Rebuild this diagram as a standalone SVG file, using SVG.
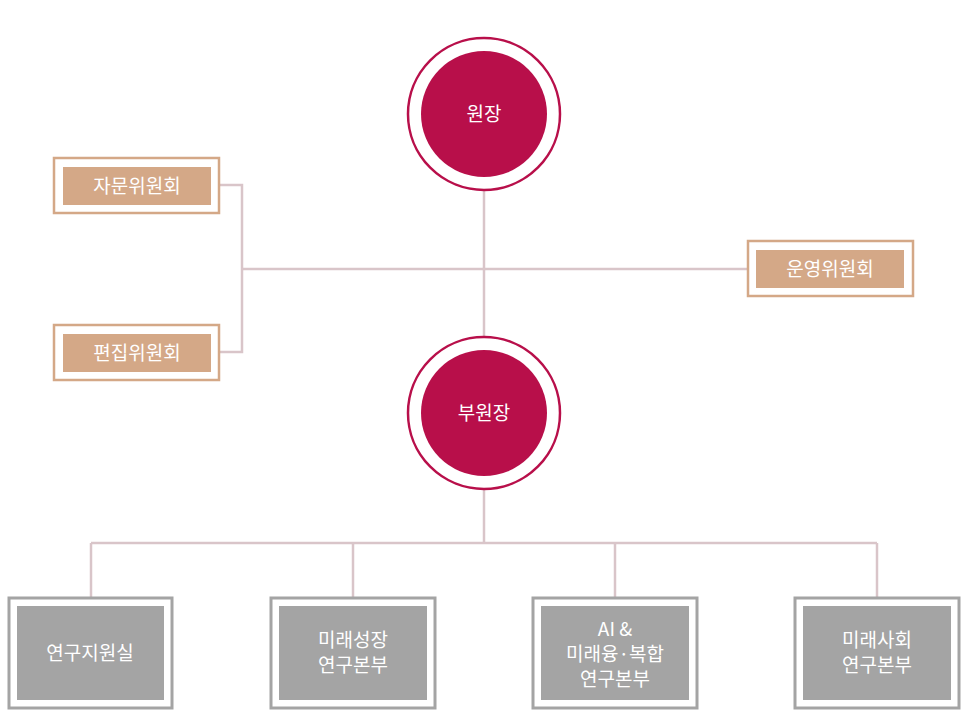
<svg xmlns="http://www.w3.org/2000/svg" width="970" height="720" viewBox="0 0 970 720">
<style>
text{font-family:"Noto Sans CJK KR","Noto Sans",sans-serif;fill:#fff;text-anchor:middle}
.ln{stroke:#d9c5c9;stroke-width:2.5;fill:none}
.co{fill:#fff;stroke:#d4a887;stroke-width:2.5}
.ci{fill:#d4a887}
.go{fill:#fff;stroke:#a4a4a4;stroke-width:3}
.gi{fill:#a4a4a4}
.rc{fill:#fff;stroke:#b80f4a;stroke-width:2.5}
.ri{fill:#b80f4a}
.t{font-size:19px}
</style>
<rect width="970" height="720" fill="#fff"/>
<g id="connectors" class="ln">
<path d="M484 190V337M242 269H748M219 185H242V352H219M484 490V543M91 543H877M91 543V598M353 543V598M615 543V598M877 543V598"/>
</g>
<g id="wonjang"><circle class="rc" cx="484" cy="114" r="76"/><circle class="ri" cx="484" cy="114" r="63"/><text x="484" y="121" class="t">원장</text></g>
<g id="bu"><circle class="rc" cx="484" cy="413" r="76"/><circle class="ri" cx="484" cy="413" r="63"/><text x="484" y="420" class="t">부원장</text></g>
<g id="jamun"><rect class="co" x="54" y="158" width="165" height="55"/><rect class="ci" x="63" y="167" width="148" height="38"/><text x="137" y="193" class="t">자문위원회</text></g>
<g id="pyeonjip"><rect class="co" x="54" y="325" width="165" height="55"/><rect class="ci" x="63" y="334" width="148" height="38"/><text x="137" y="360" class="t">편집위원회</text></g>
<g id="unyeong"><rect class="co" x="748" y="241" width="165" height="55"/><rect class="ci" x="756" y="250" width="148" height="38"/><text x="830" y="276" class="t">운영위원회</text></g>
<g id="b1"><rect class="go" x="9" y="598" width="163" height="110"/><rect class="gi" x="17" y="606" width="147" height="94"/><text x="90" y="660" class="t">연구지원실</text></g>
<g id="b2"><rect class="go" x="271" y="598" width="164" height="110"/><rect class="gi" x="279" y="606" width="148" height="94"/><text x="353" y="647" class="t">미래성장</text><text x="353" y="672" class="t">연구본부</text></g>
<g id="b3"><rect class="go" x="533" y="598" width="164" height="110"/><rect class="gi" x="541" y="606" width="148" height="94"/><text x="615" y="636" class="t">AI &amp;</text><text x="615" y="661" class="t">미래융·복합</text><text x="615" y="686" class="t">연구본부</text></g>
<g id="b4"><rect class="go" x="795" y="598" width="164" height="110"/><rect class="gi" x="803" y="606" width="148" height="94"/><text x="877" y="647" class="t">미래사회</text><text x="877" y="672" class="t">연구본부</text></g>
</svg>
